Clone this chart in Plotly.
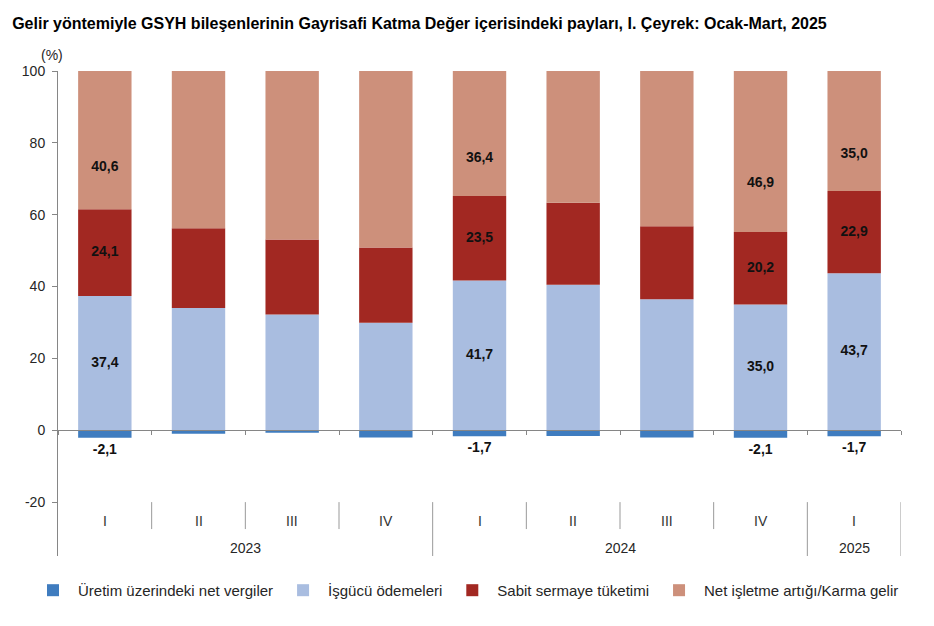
import plotly.graph_objects as go

# ---------------- data ----------------
years = ["2023", "2023", "2023", "2023", "2024", "2024", "2024", "2024", "2025"]
quarters = ["I", "II", "III", "IV", "I", "II", "III", "IV", "I"]

net_taxes = [-2.1, -1.0, -0.7, -2.0, -1.7, -1.6, -2.0, -2.1, -1.7]
labour = [37.4, 34.0, 32.2, 29.9, 41.7, 40.5, 36.5, 35.0, 43.7]
depreciation = [24.1, 22.2, 20.9, 21.0, 23.5, 22.8, 20.3, 20.2, 22.9]
net_surplus = [40.6, 44.8, 47.6, 51.1, 36.4, 38.3, 45.2, 46.9, 35.0]

labelled = [True, False, False, False, True, False, False, True, True]

series_names = [
    "Üretim üzerindeki net vergiler",
    "İşgücü ödemeleri",
    "Sabit sermaye tüketimi",
    "Net işletme artığı/Karma gelir",
]
y_ticks = [-20, 0, 20, 40, 60, 80, 100]

title_text = "Gelir yöntemiyle GSYH bileşenlerinin Gayrisafi Katma Değer içerisindeki payları, I. Çeyrek: Ocak-Mart, 2025"

# ---------------- style ----------------
FONT = "Liberation Sans, Arial, sans-serif"
colors = ["#3F7CBF", "#A9BDE0", "#A22822", "#CD907B"]
AXIS = "#868686"
DIV = "#999999"
TXT = "#262626"
Y_MIN, Y_MAX = -35, 100
QLABEL_Y, YLABEL_Y = -25.2, -32.7
QDIV_END = -27.5
NET_LABEL_FRAC = 0.29
TAX_LABEL_GAP = 1.5


def fmt(v):
    return f"{v:.1f}".replace(".", ",")


n = len(quarters)
x = list(range(n))

fig = go.Figure()
for name, vals, col in zip(series_names, [net_taxes, labour, depreciation, net_surplus], colors):
    fig.add_trace(go.Bar(
        x=x, y=vals, name=name, marker_color=col, marker_line_width=0,
        width=0.57, hoverinfo="skip",
    ))

# data labels
lab_font = dict(family=FONT, size=14, color="#111111")
idx = [i for i in range(n) if labelled[i]]
fig.add_trace(go.Scatter(
    x=[x[i] for i in idx], y=[net_taxes[i] - TAX_LABEL_GAP for i in idx],
    text=["<b>" + fmt(net_taxes[i]) + "</b>" for i in idx],
    mode="text", textposition="bottom center", textfont=lab_font,
    showlegend=False, hoverinfo="skip", cliponaxis=False))
fig.add_trace(go.Scatter(
    x=[x[i] for i in idx], y=[labour[i] / 2 for i in idx],
    text=["<b>" + fmt(labour[i]) + "</b>" for i in idx],
    mode="text", textposition="middle center", textfont=lab_font,
    showlegend=False, hoverinfo="skip"))
fig.add_trace(go.Scatter(
    x=[x[i] for i in idx], y=[labour[i] + depreciation[i] / 2 for i in idx],
    text=["<b>" + fmt(depreciation[i]) + "</b>" for i in idx],
    mode="text", textposition="middle center", textfont=lab_font,
    showlegend=False, hoverinfo="skip"))
fig.add_trace(go.Scatter(
    x=[x[i] for i in idx],
    y=[labour[i] + depreciation[i] + net_surplus[i] * NET_LABEL_FRAC for i in idx],
    text=["<b>" + fmt(net_surplus[i]) + "</b>" for i in idx],
    mode="text", textposition="middle center", textfont=lab_font,
    showlegend=False, hoverinfo="skip"))

# category labels and dividers below the plot
shapes = []
annotations = []
for i in range(n):
    annotations.append(dict(x=x[i], y=QLABEL_Y, xref="x", yref="y", text=quarters[i],
                            showarrow=False, font=dict(family=FONT, size=14, color="#333333"),
                            yanchor="middle"))
for i in range(1, n + 1):
    year_end = (i == n) or (years[i] != years[i - 1])
    shapes.append(dict(type="line", xref="x", yref="y", x0=i - 0.5, x1=i - 0.5,
                       y0=-20, y1=(Y_MIN if year_end else QDIV_END),
                       line=dict(color=DIV, width=1)))
# year labels
groups = {}
for i, yv in enumerate(years):
    groups.setdefault(yv, []).append(x[i])
for yv, xs in groups.items():
    annotations.append(dict(x=sum(xs) / len(xs), y=YLABEL_Y, xref="x", yref="y", text=yv,
                            showarrow=False, font=dict(family=FONT, size=14, color=TXT),
                            yanchor="middle"))
annotations.append(dict(x=-0.0068, y=1.033, xref="paper", yref="paper", text="(%)",
                        showarrow=False, font=dict(family=FONT, size=14, color=TXT),
                        xanchor="center", yanchor="middle"))

fig.update_layout(
    width=934, height=626,
    margin=dict(l=58, r=33, t=71, b=70),
    paper_bgcolor="white", plot_bgcolor="white",
    barmode="relative",
    font=dict(family=FONT, size=14, color=TXT),
    title=dict(text="<b>" + title_text + "</b>", x=0.013, xanchor="left", xref="container",
               y=0.963, yanchor="middle", font=dict(family=FONT, size=16, color="#000000")),
    xaxis=dict(range=[-0.5, n - 0.5], anchor="free",
               position=(0 - Y_MIN) / (Y_MAX - Y_MIN),
               showline=True, linecolor=AXIS, linewidth=1,
               tickvals=[i - 0.5 for i in range(n + 1)], ticks="outside", ticklen=4,
               tickcolor=AXIS, showticklabels=False, showgrid=False, zeroline=False),
    yaxis=dict(range=[Y_MIN, Y_MAX], tickvals=y_ticks, ticktext=[str(v) for v in y_ticks],
               ticks="outside", ticklen=5, ticklabelstandoff=4,
               tickcolor=AXIS, showline=True, linecolor=AXIS, linewidth=1,
               showgrid=False, zeroline=False, tickfont=dict(size=14, color=TXT)),
    legend=dict(orientation="h", x=-0.0356, xanchor="left", y=-0.037, yanchor="top",
                itemwidth=40,
                font=dict(family=FONT, size=15, color=TXT), traceorder="normal"),
    shapes=shapes, annotations=annotations,
)

fig.write_html("out.html")
